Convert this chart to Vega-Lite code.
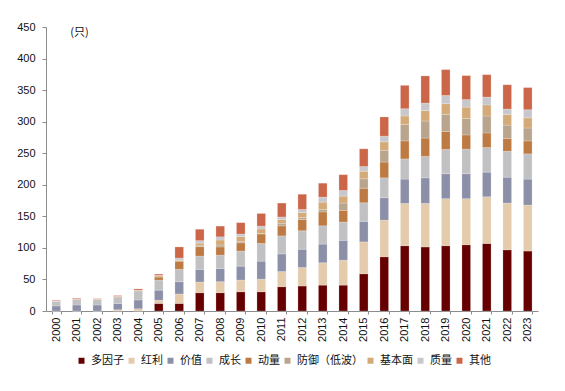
{
  "$schema": "https://vega.github.io/schema/vega-lite/v6.json",
  "autosize": {"type": "none"},
  "padding": {"left": 46, "top": 27, "right": 27, "bottom": 80},
  "width": 492,
  "height": 284,
  "background": "white",
  "config": {
    "view": {"stroke": null},
    "font": "Liberation Sans",
    "axis": {"labelFont": "Liberation Sans", "labelColor": "#111", "labelFontSize": 11, "domainColor": "#8c8c8c", "tickColor": "#8c8c8c", "grid": false}
  },
  "data": {"values": [
    {"y":"2000","s":"多因子","v":0},{"y":"2000","s":"红利","v":0},{"y":"2000","s":"价值","v":8},{"y":"2000","s":"成长","v":8},{"y":"2000","s":"动量","v":0},{"y":"2000","s":"防御（低波）","v":0},{"y":"2000","s":"基本面","v":0},{"y":"2000","s":"质量","v":0},{"y":"2000","s":"其他","v":1},
    {"y":"2001","s":"多因子","v":0},{"y":"2001","s":"红利","v":0},{"y":"2001","s":"价值","v":9.5},{"y":"2001","s":"成长","v":9},{"y":"2001","s":"动量","v":0},{"y":"2001","s":"防御（低波）","v":0},{"y":"2001","s":"基本面","v":0},{"y":"2001","s":"质量","v":0},{"y":"2001","s":"其他","v":1.5},
    {"y":"2002","s":"多因子","v":0},{"y":"2002","s":"红利","v":0},{"y":"2002","s":"价值","v":9.5},{"y":"2002","s":"成长","v":9},{"y":"2002","s":"动量","v":0},{"y":"2002","s":"防御（低波）","v":0},{"y":"2002","s":"基本面","v":0},{"y":"2002","s":"质量","v":0},{"y":"2002","s":"其他","v":1},
    {"y":"2003","s":"多因子","v":0},{"y":"2003","s":"红利","v":2},{"y":"2003","s":"价值","v":10},{"y":"2003","s":"成长","v":10},{"y":"2003","s":"动量","v":1.5},{"y":"2003","s":"防御（低波）","v":0},{"y":"2003","s":"基本面","v":0},{"y":"2003","s":"质量","v":0},{"y":"2003","s":"其他","v":1},
    {"y":"2004","s":"多因子","v":0},{"y":"2004","s":"红利","v":3.5},{"y":"2004","s":"价值","v":14},{"y":"2004","s":"成长","v":14.5},{"y":"2004","s":"动量","v":1},{"y":"2004","s":"防御（低波）","v":0},{"y":"2004","s":"基本面","v":0},{"y":"2004","s":"质量","v":0},{"y":"2004","s":"其他","v":2},
    {"y":"2005","s":"多因子","v":12},{"y":"2005","s":"红利","v":5},{"y":"2005","s":"价值","v":16},{"y":"2005","s":"成长","v":16},{"y":"2005","s":"动量","v":5},{"y":"2005","s":"防御（低波）","v":0},{"y":"2005","s":"基本面","v":2},{"y":"2005","s":"质量","v":0.5},{"y":"2005","s":"其他","v":2},
    {"y":"2006","s":"多因子","v":12},{"y":"2006","s":"红利","v":15},{"y":"2006","s":"价值","v":19.5},{"y":"2006","s":"成长","v":19.5},{"y":"2006","s":"动量","v":13},{"y":"2006","s":"防御（低波）","v":0.5},{"y":"2006","s":"基本面","v":1},{"y":"2006","s":"质量","v":3.5},{"y":"2006","s":"其他","v":17.5},
    {"y":"2007","s":"多因子","v":29},{"y":"2007","s":"红利","v":17},{"y":"2007","s":"价值","v":20},{"y":"2007","s":"成长","v":21},{"y":"2007","s":"动量","v":15},{"y":"2007","s":"防御（低波）","v":1.5},{"y":"2007","s":"基本面","v":4},{"y":"2007","s":"质量","v":4},{"y":"2007","s":"其他","v":18},
    {"y":"2008","s":"多因子","v":29},{"y":"2008","s":"红利","v":17.5},{"y":"2008","s":"价值","v":21},{"y":"2008","s":"成长","v":21},{"y":"2008","s":"动量","v":13},{"y":"2008","s":"防御（低波）","v":3},{"y":"2008","s":"基本面","v":8},{"y":"2008","s":"质量","v":5},{"y":"2008","s":"其他","v":17},
    {"y":"2009","s":"多因子","v":30.5},{"y":"2009","s":"红利","v":18.5},{"y":"2009","s":"价值","v":22},{"y":"2009","s":"成长","v":24},{"y":"2009","s":"动量","v":13},{"y":"2009","s":"防御（低波）","v":2},{"y":"2009","s":"基本面","v":8},{"y":"2009","s":"质量","v":4},{"y":"2009","s":"其他","v":18},
    {"y":"2010","s":"多因子","v":30.5},{"y":"2010","s":"红利","v":20},{"y":"2010","s":"价值","v":28.5},{"y":"2010","s":"成长","v":28},{"y":"2010","s":"动量","v":15},{"y":"2010","s":"防御（低波）","v":1},{"y":"2010","s":"基本面","v":7},{"y":"2010","s":"质量","v":4.5},{"y":"2010","s":"其他","v":20},
    {"y":"2011","s":"多因子","v":38.5},{"y":"2011","s":"红利","v":24},{"y":"2011","s":"价值","v":28},{"y":"2011","s":"成长","v":28.5},{"y":"2011","s":"动量","v":16},{"y":"2011","s":"防御（低波）","v":4},{"y":"2011","s":"基本面","v":6},{"y":"2011","s":"质量","v":4},{"y":"2011","s":"其他","v":22},
    {"y":"2012","s":"多因子","v":39.5},{"y":"2012","s":"红利","v":29.5},{"y":"2012","s":"价值","v":29},{"y":"2012","s":"成长","v":29},{"y":"2012","s":"动量","v":18},{"y":"2012","s":"防御（低波）","v":3},{"y":"2012","s":"基本面","v":8},{"y":"2012","s":"质量","v":5},{"y":"2012","s":"其他","v":24},
    {"y":"2013","s":"多因子","v":41},{"y":"2013","s":"红利","v":35.5},{"y":"2013","s":"价值","v":29.5},{"y":"2013","s":"成长","v":29},{"y":"2013","s":"动量","v":22},{"y":"2013","s":"防御（低波）","v":4},{"y":"2013","s":"基本面","v":11.5},{"y":"2013","s":"质量","v":8},{"y":"2013","s":"其他","v":22},
    {"y":"2014","s":"多因子","v":41},{"y":"2014","s":"红利","v":39.5},{"y":"2014","s":"价值","v":31.5},{"y":"2014","s":"成长","v":29},{"y":"2014","s":"动量","v":18.5},{"y":"2014","s":"防御（低波）","v":11.5},{"y":"2014","s":"基本面","v":11},{"y":"2014","s":"质量","v":9},{"y":"2014","s":"其他","v":25},
    {"y":"2015","s":"多因子","v":59},{"y":"2015","s":"红利","v":50.5},{"y":"2015","s":"价值","v":32.5},{"y":"2015","s":"成长","v":29.5},{"y":"2015","s":"动量","v":23},{"y":"2015","s":"防御（低波）","v":15},{"y":"2015","s":"基本面","v":12},{"y":"2015","s":"质量","v":7.5},{"y":"2015","s":"其他","v":28},
    {"y":"2016","s":"多因子","v":86},{"y":"2016","s":"红利","v":58},{"y":"2016","s":"价值","v":35.5},{"y":"2016","s":"成长","v":31.5},{"y":"2016","s":"动量","v":25},{"y":"2016","s":"防御（低波）","v":18.5},{"y":"2016","s":"基本面","v":13.5},{"y":"2016","s":"质量","v":9},{"y":"2016","s":"其他","v":30.5},
    {"y":"2017","s":"多因子","v":103.5},{"y":"2017","s":"红利","v":67},{"y":"2017","s":"价值","v":38.5},{"y":"2017","s":"成长","v":32},{"y":"2017","s":"动量","v":28.5},{"y":"2017","s":"防御（低波）","v":26},{"y":"2017","s":"基本面","v":13.5},{"y":"2017","s":"质量","v":11.5},{"y":"2017","s":"其他","v":37},
    {"y":"2018","s":"多因子","v":101.5},{"y":"2018","s":"红利","v":69},{"y":"2018","s":"价值","v":40.5},{"y":"2018","s":"成长","v":34},{"y":"2018","s":"动量","v":29},{"y":"2018","s":"防御（低波）","v":27},{"y":"2018","s":"基本面","v":16.5},{"y":"2018","s":"质量","v":12},{"y":"2018","s":"其他","v":43},
    {"y":"2019","s":"多因子","v":103.5},{"y":"2019","s":"红利","v":74.5},{"y":"2019","s":"价值","v":39.5},{"y":"2019","s":"成长","v":38.5},{"y":"2019","s":"动量","v":28.5},{"y":"2019","s":"防御（低波）","v":27},{"y":"2019","s":"基本面","v":17},{"y":"2019","s":"质量","v":13},{"y":"2019","s":"其他","v":41},
    {"y":"2020","s":"多因子","v":105},{"y":"2020","s":"红利","v":73},{"y":"2020","s":"价值","v":39.5},{"y":"2020","s":"成长","v":39},{"y":"2020","s":"动量","v":22.5},{"y":"2020","s":"防御（低波）","v":26},{"y":"2020","s":"基本面","v":18},{"y":"2020","s":"质量","v":12},{"y":"2020","s":"其他","v":38},
    {"y":"2021","s":"多因子","v":107},{"y":"2021","s":"红利","v":74},{"y":"2021","s":"价值","v":39},{"y":"2021","s":"成长","v":39},{"y":"2021","s":"动量","v":23},{"y":"2021","s":"防御（低波）","v":27},{"y":"2021","s":"基本面","v":17.5},{"y":"2021","s":"质量","v":12.5},{"y":"2021","s":"其他","v":35.5},
    {"y":"2022","s":"多因子","v":97},{"y":"2022","s":"红利","v":74},{"y":"2022","s":"价值","v":41},{"y":"2022","s":"成长","v":41},{"y":"2022","s":"动量","v":20.5},{"y":"2022","s":"防御（低波）","v":21},{"y":"2022","s":"基本面","v":17},{"y":"2022","s":"质量","v":8.5},{"y":"2022","s":"其他","v":38.5},
    {"y":"2023","s":"多因子","v":95},{"y":"2023","s":"红利","v":73},{"y":"2023","s":"价值","v":41},{"y":"2023","s":"成长","v":40},{"y":"2023","s":"动量","v":20.5},{"y":"2023","s":"防御（低波）","v":20.5},{"y":"2023","s":"基本面","v":16},{"y":"2023","s":"质量","v":13},{"y":"2023","s":"其他","v":35}
  ]},
  "transform": [
    {"calculate": "indexof(['多因子','红利','价值','成长','动量','防御（低波）','基本面','质量','其他'], datum.s)", "as": "ord"}
  ],
  "mark": {"type": "bar", "stroke": "#ffffff", "strokeWidth": 0.4, "strokeOpacity": 0.5},
  "encoding": {
    "x": {
      "field": "y", "type": "ordinal",
      "scale": {"paddingInner": 0.58, "paddingOuter": 0.29},
      "axis": {"title": null, "labelAngle": -90, "tickBand": "extent", "tickSize": 3, "labelPadding": 3, "labelFontSize": 11, "domainColor": "#8c8c8c"}
    },
    "y": {
      "field": "v", "type": "quantitative", "stack": "zero",
      "scale": {"domain": [0, 450], "nice": false},
      "axis": {
        "values": [0, 50, 100, 150, 200, 250, 300, 350, 400, 450],
        "tickSize": 4, "labelPadding": 7, "labelFontSize": 11,
        "title": "(只)", "titleAngle": 0, "titleX": 33, "titleY": 5,
        "titleAlign": "center", "titleBaseline": "middle",
        "titleFontWeight": "normal", "titleFontSize": 11, "titleFont": "Noto Sans CJK SC", "titleColor": "#111"
      }
    },
    "order": {"field": "ord", "type": "quantitative", "sort": "ascending"},
    "color": {
      "field": "s", "type": "nominal",
      "scale": {
        "domain": ["多因子", "红利", "价值", "成长", "动量", "防御（低波）", "基本面", "质量", "其他"],
        "range": ["#660000", "#E3CBAC", "#8B8FA8", "#C1C1C4", "#BD7B43", "#B9A58D", "#D3AA78", "#C8C8CC", "#CC6649"]
      },
      "legend": {
        "title": null, "orient": "none", "legendX": 30, "legendY": 328,
        "direction": "horizontal", "symbolType": "square", "symbolSize": 36,
        "symbolStrokeWidth": 0, "labelFont": "Noto Sans CJK SC", "labelFontSize": 11,
        "labelColor": "#111", "columnPadding": 2, "labelOffset": 4, "padding": 0
      }
    }
  }
}
